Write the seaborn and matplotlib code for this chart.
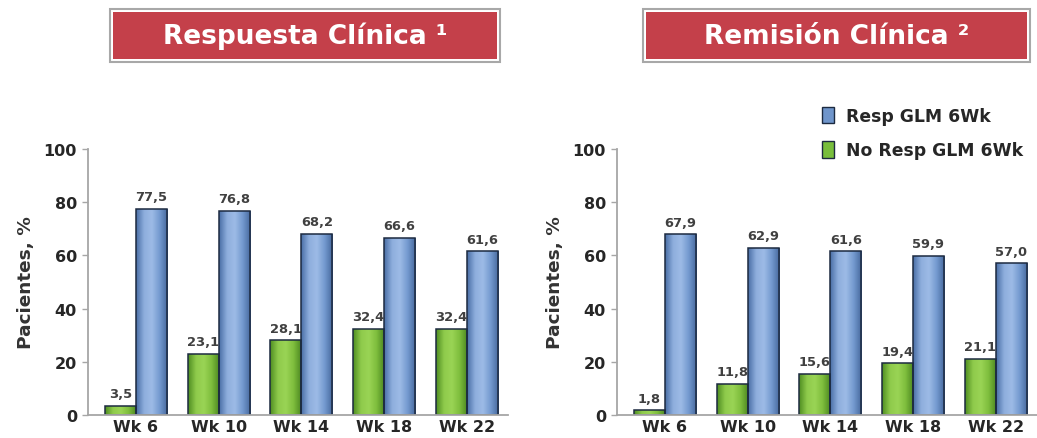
import matplotlib
matplotlib.use("Agg")
import matplotlib.pyplot as plt
from matplotlib.patches import Rectangle, Patch
from matplotlib.colors import LinearSegmentedColormap
import numpy as np
import pandas as pd
import seaborn as sns

# --- data -------------------------------------------------------------
semanas = ["Wk 6", "Wk 10", "Wk 14", "Wk 18", "Wk 22"]
grupos = ["No Resp GLM 6Wk", "Resp GLM 6Wk"]

respuesta_no_resp = [3.5, 23.1, 28.1, 32.4, 32.4]
respuesta_resp = [77.5, 76.8, 68.2, 66.6, 61.6]

remision_no_resp = [1.8, 11.8, 15.6, 19.4, 21.1]
remision_resp = [67.9, 62.9, 61.6, 59.9, 57.0]

titulos = ["Respuesta Clínica \u00b9", "Remisión Clínica \u00b2"]
ylabel = "Pacientes, %"
yticks = [0, 20, 40, 60, 80, 100]

# --- style ------------------------------------------------------------
sns.set_theme(style="white")
plt.rcParams["font.family"] = ["DejaVu Sans"]

verde = "#78BE3C"
azul = "#6F95CB"
borde = "#1C2A40"
rojo = "#C4404A"
gris_eje = "#A6A6A6"
texto = "#262626"

# horizontal shading used inside each bar (edge -> highlight -> edge)
sombras = {
    grupos[0]: LinearSegmentedColormap.from_list(
        "verde", ["#4F8E22", "#8FCB4C", "#9AD455", "#7DBD3C", "#4A8420"]),
    grupos[1]: LinearSegmentedColormap.from_list(
        "azul", ["#4A6FA6", "#8EAEDD", "#9DBBE6", "#7399CF", "#46689C"]),
}


def tabla(no_resp, resp):
    return pd.DataFrame({
        "Semana": semanas * 2,
        "Grupo": [grupos[0]] * len(semanas) + [grupos[1]] * len(semanas),
        "Pct": list(no_resp) + list(resp),
    })


fig = plt.figure(figsize=(10.37, 4.39), dpi=100)

W, H = 1037, 439


def px_axes(x0, x1, ytop, ybot):
    return [x0 / W, (H - ybot) / H, (x1 - x0) / W, (ybot - ytop) / H]


ax1 = fig.add_axes(px_axes(88, 508, 150, 416))
ax2 = fig.add_axes(px_axes(617, 1037, 150, 416))

paneles = [
    (ax1, tabla(respuesta_no_resp, respuesta_resp)),
    (ax2, tabla(remision_no_resp, remision_resp)),
]

gradiente = np.linspace(0, 1, 64).reshape(1, -1)

for ax, df in paneles:
    sns.barplot(
        data=df, x="Semana", y="Pct", hue="Grupo",
        hue_order=grupos, order=semanas,
        palette=[verde, azul], saturation=1, width=0.75,
        edgecolor=borde, linewidth=1.1,
        legend=False, ax=ax,
    )
    for cont, g in zip(ax.containers, grupos):
        vals = df.loc[df["Grupo"] == g, "Pct"].tolist()
        # shade each bar with a cylindrical gradient clipped to the bar
        for bar in cont:
            x0 = bar.get_x()
            w = bar.get_width()
            h = bar.get_height()
            im = ax.imshow(gradiente, cmap=sombras[g], aspect="auto",
                           extent=(x0, x0 + w, 0, h), interpolation="bicubic",
                           zorder=bar.get_zorder() - 0.1)
            im.set_clip_path(bar)
            bar.set_facecolor("none")
        ax.bar_label(
            cont, labels=[f"{v:.1f}".replace(".", ",") for v in vals],
            padding=4, fontsize=9.4, fontweight="bold", color="#404040",
        )
    ax.set_ylim(0, 100)
    ax.set_xlim(-0.58, 4.5)
    ax.set_yticks(yticks)
    ax.set_xlabel("")
    ax.set_ylabel(ylabel, fontsize=13.3, fontweight="bold", color="#333333",
                  labelpad=6)
    ax.tick_params(axis="y", labelsize=11.5, colors=gris_eje, labelcolor=texto,
                   length=4, width=1, left=True, pad=4)
    ax.tick_params(axis="x", labelsize=11.5, labelcolor=texto, length=0, pad=3)
    for lab in ax.get_xticklabels() + ax.get_yticklabels():
        lab.set_fontweight("bold")
    sns.despine(ax=ax, top=True, right=True)
    for s in ("left", "bottom"):
        ax.spines[s].set_color(gris_eje)
        ax.spines[s].set_linewidth(1.3)
    ax.patch.set_alpha(0)

# --- title boxes --------------------------------------------------------
cajas = [(110, 500), (643, 1030)]
for (x0, x1), titulo in zip(cajas, titulos):
    y0, y1 = 10, 63
    fig.patches.append(Rectangle(
        (x0 / W, (H - y1) / H), (x1 - x0) / W, (y1 - y0) / H,
        transform=fig.transFigure, facecolor="white",
        edgecolor="#A8A8A8", linewidth=1.5))
    fig.patches.append(Rectangle(
        ((x0 + 3) / W, (H - y1 + 3) / H), (x1 - x0 - 6) / W, (y1 - y0 - 6) / H,
        transform=fig.transFigure, facecolor=rojo, edgecolor="none"))
    fig.text((x0 + x1) / 2 / W, (H - (y0 + y1) / 2) / H, titulo,
             ha="center", va="center", color="white",
             fontsize=19, fontweight="bold")

# --- legend -------------------------------------------------------------
handles = [Patch(facecolor=azul, edgecolor=borde, label=grupos[1]),
           Patch(facecolor=verde, edgecolor=borde, label=grupos[0])]
fig.legend(handles=handles, loc="upper left",
           bbox_to_anchor=(806 / W, (H - 92) / H),
           frameon=False, handlelength=0.7, handleheight=1.1,
           handletextpad=0.7, labelspacing=0.95,
           prop={"size": 12.4, "weight": "bold"}, labelcolor=texto)

fig.savefig("out.png", dpi=100)
